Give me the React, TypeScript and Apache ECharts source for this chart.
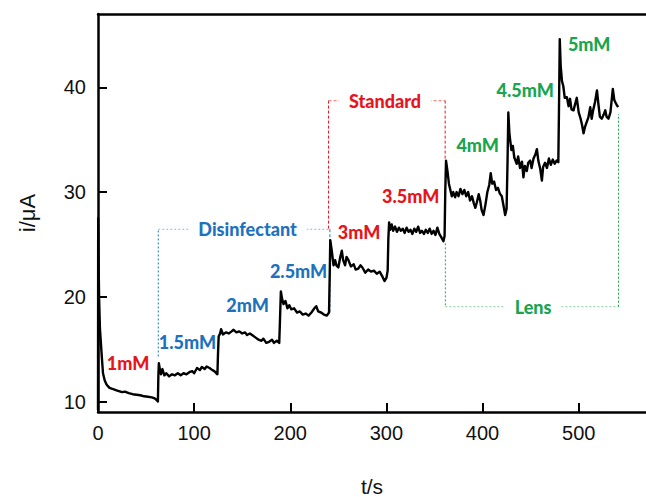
import React, { useEffect, useRef } from "react";
import * as echarts from "echarts";

// Amperometric trace (t in s, i in µA)
const trace: [number, number][] = [
  [0, 9.2], [0.2, 27.5], [0.8, 22], [1.2, 19.7], [2, 17], [2.8, 15.9], [4, 14.2], [5.2, 12.7], [7, 12], [9, 11.6],
  [12, 11.3], [15, 11.2], [20, 11.05], [25, 10.9], [28, 10.95], [32, 10.8], [36, 10.7], [40, 10.65], [44, 10.6],
  [48, 10.5], [52, 10.45], [56, 10.4], [59, 10.3], [61.5, 10.1], [62.3, 10.0],
  [62.8, 12.5], [63.3, 13.65], [64.5, 13.0], [65.5, 12.6], [67, 13.1], [69, 12.5], [71, 12.7], [74, 12.4], [77, 12.6],
  [80, 12.5], [83, 12.7], [86, 12.5], [89, 12.7], [92, 12.6], [95, 12.8], [98, 12.9], [100, 12.7], [103, 13.2],
  [106, 13.0], [108, 13.3], [111, 13.1], [113, 13.35], [116, 13.2], [119, 13.0], [121, 12.9], [123, 12.7], [124.2, 12.6],
  [124.8, 14.5], [125.5, 16.2], [127, 16.5], [128, 16.9], [130, 16.4], [133, 16.6], [136, 16.5], [139, 16.7],
  [141, 16.85], [144, 16.6], [147, 16.7], [150, 16.5], [153, 16.6], [155, 16.35], [158, 16.5], [161, 16.3],
  [164, 16.1], [167, 15.9], [170, 15.8], [172, 16.0], [175, 15.6], [178, 15.7], [181, 15.9], [183, 15.6], [186, 15.8], [188.5, 15.6],
  [189.2, 17.5], [190.2, 20.5], [191.5, 19.8], [193, 19.3], [195, 19.6], [197, 18.9], [199, 19.2], [201, 18.8],
  [204, 18.9], [207, 18.5], [210, 18.6], [213, 18.3], [216, 18.4], [219, 18.2], [222, 18.5], [225, 18.9], [227, 19.1],
  [229, 18.6], [232, 18.5], [235, 18.3], [238, 18.2], [240.3, 18.5],
  [241, 22.0], [241.6, 25.4], [243, 24.5], [245, 23.0], [246.6, 23.5], [248, 23.0], [250, 22.8], [252, 23.8],
  [253.6, 24.4], [255, 23.5], [257, 23.0], [258.5, 23.8], [260.5, 23.5], [263, 22.9], [266, 23.1], [268, 22.6],
  [270.8, 22.7], [273, 23.0], [275, 22.8], [278, 22.3], [281, 22.6], [284, 22.4], [287, 22.5], [290, 22.2],
  [293, 22.4], [296, 21.9], [298, 21.5], [300, 21.8], [301.3, 22.5],
  [302, 25.5], [302.8, 27.1], [304, 26.4], [305.5, 26.9], [307, 26.3], [309, 26.7], [311, 26.2], [313, 26.6],
  [315, 26.3], [317, 26.5], [319, 26.1], [321, 26.6], [323, 26.2], [325, 26.4], [327, 26.0], [329, 26.5],
  [331, 26.2], [333, 26.7], [335, 26.1], [337, 26.3], [339, 26.0], [341, 26.4], [343, 26.1], [345, 26.5],
  [347, 26.0], [349, 26.3], [351, 25.9], [353, 26.6], [355, 26.0], [357, 25.7], [359.3, 25.3], [360.5, 25.8],
  [361.2, 30], [362, 33.0], [363.5, 32.0], [365, 30.8], [366.5, 30.2], [368, 29.6], [369.5, 30.0], [371.5, 29.5],
  [373, 30.0], [375, 29.6], [377, 30.3], [379, 29.8], [381, 30.2], [383, 29.6], [385, 30.0], [387, 29.2],
  [389, 29.6], [391, 28.9], [392.5, 28.5], [394, 29.0], [396, 29.8], [397.5, 29.2], [399, 28.3], [401, 27.8],
  [403, 28.8], [405, 30.0], [407, 30.7], [408.5, 31.8], [410, 30.8], [412, 31.0], [414, 30.2], [416, 30.4],
  [418, 29.85], [420, 29.6], [422, 28.6], [423.5, 27.8], [425, 28.4],
  [426, 33], [426.8, 37.6], [428, 35.5], [430, 34.0], [431.5, 34.4], [433, 33.3], [435.5, 32.7], [437, 33.4],
  [439, 32.3], [441, 32.9], [442.5, 31.4], [444, 32.5], [446, 32.0], [447.5, 32.8], [449.5, 33.0], [451, 32.3],
  [453, 33.2], [455, 33.6], [456.5, 34.1], [458, 33.0], [460, 32.2], [461.7, 31.1], [463, 32.4], [465, 32.8],
  [467, 32.3], [469, 33.2], [471, 32.6], [473, 33.1], [475, 32.7], [477, 33.0], [478.8, 32.85],
  [479.5, 38], [480.3, 44.6], [481.3, 42.0], [482.6, 40.6], [484, 40.1], [485.5, 39.0], [487.7, 39.05],
  [489.5, 38.2], [491, 38.9], [492.5, 37.9], [494.6, 37.8], [496, 38.3], [498, 39.0], [500, 37.6], [502, 37.0],
  [503.5, 36.4], [505, 35.6], [506.5, 36.2], [508, 36.6], [510, 37.1], [512, 38.1], [513.5, 37.0], [515, 37.8],
  [517, 38.6], [519, 39.7], [520.5, 38.4], [522, 37.2], [524, 37.0], [526, 37.4], [527.6, 37.8], [529, 37.2],
  [531, 37.0], [533, 37.6], [535.5, 39.85], [537, 38.8], [538.5, 38.5], [539.7, 38.3], [541, 38.1],
];

const xTicks = [0, 100, 200, 300, 400, 500];
const yTicks = [10, 20, 30, 40];

const RED = "#e8141c";
const BLUE = "#1e72bd";
const GREEN = "#1aa550";

// concentration labels [t, i, text, color]
const concLabels: [number, number, string, string][] = [
  [31.2, 13.7, "1mM", RED],
  [93.1, 15.7, "1.5mM", BLUE],
  [155.6, 19.2, "2mM", BLUE],
  [208.6, 22.5, "2.5mM", BLUE],
  [271.6, 26.2, "3mM", RED],
  [325.2, 29.6, "3.5mM", RED],
  [394.9, 34.45, "4mM", GREEN],
  [444.3, 39.7, "4.5mM", GREEN],
  [510.9, 44.15, "5mM", GREEN],
];

// bracket titles [t, i, text, color]
const bracketTitles: [number, number, string, string][] = [
  [155.6, 26.45, "Disinfectant", BLUE],
  [298.6, 38.73, "Standard", RED],
  [452.6, 19.0, "Lens", GREEN],
];

// bracket outlines: verticals and horizontals
const disinfectantLeft: [number, number][] = [[62.7, 14.3], [62.7, 26.45]];
const disinfectantTop: [number, number][] = [[62.7, 26.45], [241.2, 26.45]];
const disinfectantRight: [number, number][] = [[241.2, 26.45], [241.2, 18.5]];
const standardLeft: [number, number][] = [[239.8, 38.73], [239.8, 26.45]];
const standardTop: [number, number][] = [[239.8, 38.73], [361.1, 38.73]];
const standardRight: [number, number][] = [[361.1, 38.73], [361.1, 33.0]];
const lensLeft: [number, number][] = [[361.3, 25.1], [361.3, 19.05]];
const lensBottom: [number, number][] = [[361.3, 19.05], [541.4, 19.05]];
const lensRight: [number, number][] = [[541.4, 19.05], [541.4, 37.45]];

function seg(data: [number, number][], color: string, type: any, width = 1, opacity = 1) {
  return {
    type: "line",
    data,
    showSymbol: false,
    symbol: "none",
    silent: true,
    z: 1,
    lineStyle: { color, width, type, opacity },
  };
}

export default function App() {
  const ref = useRef<HTMLDivElement>(null);
  useEffect(() => {
    if (!ref.current) return;
    const chart = echarts.init(ref.current, undefined, { renderer: "svg" });
    const axisFont = { fontFamily: "Liberation Sans", fontSize: 20, color: "#111" };
    const labelFont = {
      fontFamily: "Lato",
      fontWeight: 900,
      fontSize: 18,
      textBorderWidth: 0,
      textBorderColor: "transparent",
      textShadowBlur: 0,
      opacity: 1,
    };
    chart.setOption({
      animation: false,
      backgroundColor: "#fff",
      grid: { left: 98, right: 0, top: 14, bottom: 85, containLabel: false, outerBoundsMode: "none" },
      xAxis: [
        {
          type: "value",
          min: 0,
          max: 570,
          name: "t/s",
          nameLocation: "middle",
          nameGap: 64,
          nameTextStyle: { fontFamily: "Liberation Sans", fontSize: 21, color: "#111" },
          splitLine: { show: false },
          axisLine: { show: true, lineStyle: { color: "#000", width: 2.5 } },
          axisTick: { show: true, inside: true, length: 9, lineStyle: { color: "#000", width: 2 }, customValues: xTicks },
          axisLabel: { ...axisFont, margin: 11, customValues: xTicks },
        },
        {
          type: "value",
          position: "top",
          min: 0,
          max: 570,
          splitLine: { show: false },
          axisLine: { show: true, lineStyle: { color: "#000", width: 2.5 } },
          axisTick: { show: false },
          axisLabel: { show: false },
        },
      ],
      yAxis: {
        type: "value",
        min: 9,
        max: 47,
        name: "i/μA",
        nameLocation: "middle",
        nameGap: 60,
        nameTextStyle: { fontFamily: "Liberation Sans", fontSize: 22, color: "#111" },
        splitLine: { show: false },
        axisLine: { show: true, lineStyle: { color: "#000", width: 2.5 } },
        axisTick: { show: true, inside: true, length: 9, lineStyle: { color: "#000", width: 2 }, customValues: yTicks },
        axisLabel: { ...axisFont, margin: 12, customValues: yTicks },
      },
      series: [
        seg(disinfectantLeft, BLUE, [2, 2], 1),
        seg(disinfectantTop, "#8fb8dc", [2, 2], 1.2),
        seg(disinfectantRight, BLUE, [3, 2], 1),
        seg(standardLeft, RED, [3, 2], 1),
        seg(standardTop, "#f08a8a", [3, 2], 1.2),
        seg(standardRight, RED, [3, 2], 1),
        seg(lensLeft, GREEN, [2, 2], 1),
        seg(lensBottom, "#7fcf9c", [2, 2], 1.2),
        seg(lensRight, GREEN, [2, 2], 1),
        {
          type: "line",
          data: trace,
          showSymbol: false,
          symbol: "none",
          z: 3,
          lineStyle: { color: "#000", width: 2.4, join: "round" },
        },
        {
          type: "scatter",
          symbolSize: 0,
          z: 5,
          silent: true,
          itemStyle: { color: "transparent" },
          data: bracketTitles.map(([t, v, s, c]) => ({
            value: [t, v],
            name: s,
            label: { color: c },
          })),
          label: {
            show: true,
            position: "inside",
            formatter: (p: any) => p.name,
            ...labelFont,
            backgroundColor: "#fff",
            padding: [1, 10],
          },
        },
        {
          type: "scatter",
          symbolSize: 0,
          z: 6,
          silent: true,
          itemStyle: { color: "transparent" },
          data: concLabels.map(([t, v, s, c]) => ({
            value: [t, v],
            name: s,
            label: { color: c },
          })),
          label: {
            show: true,
            position: "inside",
            formatter: (p: any) => p.name,
            ...labelFont,
          },
        },
      ],
    });
    return () => chart.dispose();
  }, []);
  return (
    <div
      ref={ref}
      style={{ position: "absolute", left: 0, top: 0, width: 646, height: 497 }}
    />
  );
}
